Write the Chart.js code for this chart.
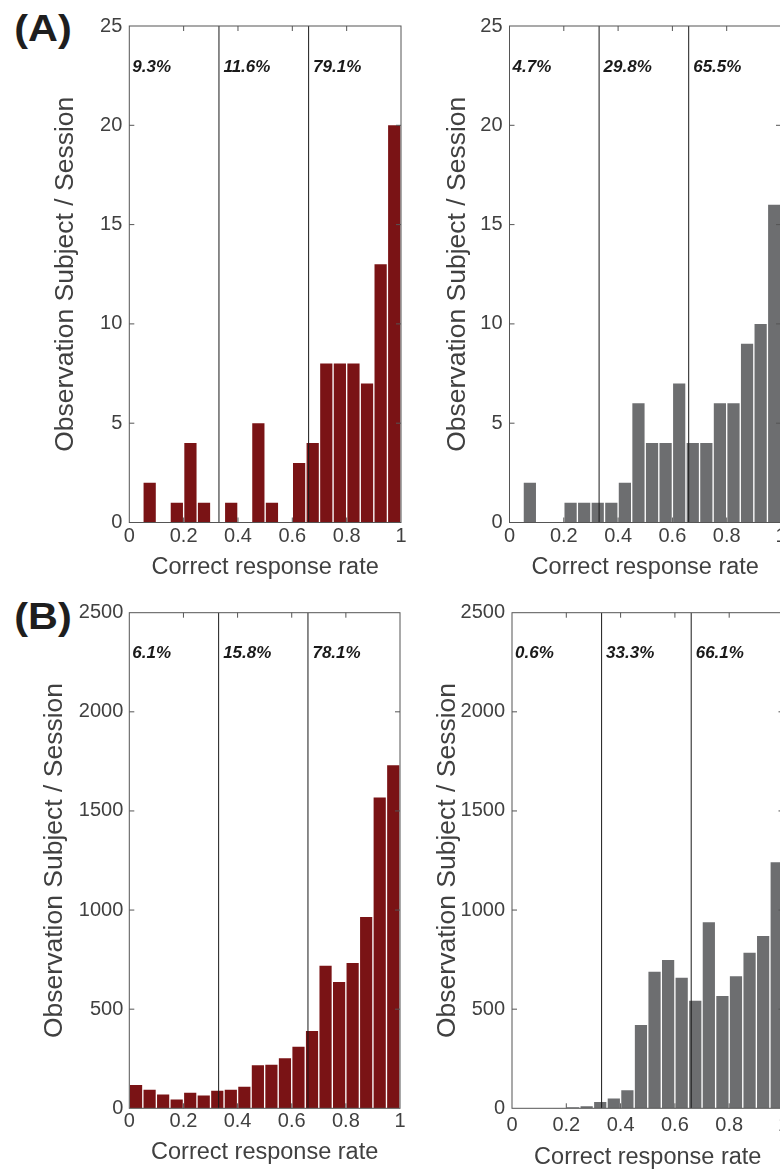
<!DOCTYPE html>
<html><head><meta charset="utf-8">
<script src="https://cdn.jsdelivr.net/npm/chart.js@4.4.1/dist/chart.umd.min.js"></script>
<style>
html,body{margin:0;padding:0;background:#fff;}
body{width:780px;height:1169px;position:relative;overflow:hidden;}
.panel{position:absolute;}
.panel canvas{display:block;}
.tag{position:absolute;font-family:'Liberation Sans',Arial,sans-serif;font-weight:bold;font-size:36px;line-height:36px;color:#1e1e1e;white-space:nowrap;transform:translateX(-50%) scaleX(1.15);}
</style></head><body>
<div class="tag" style="left:43.3px;top:11px;">(A)</div>
<div class="tag" style="left:43.3px;top:598.5px;">(B)</div>
<div class="panel" id="pA1"><canvas id="cA1"></canvas></div>
<div class="panel" id="pA2"><canvas id="cA2"></canvas></div>
<div class="panel" id="pB1"><canvas id="cB1"></canvas></div>
<div class="panel" id="pB2"><canvas id="cB2"></canvas></div>
<script>
// ---------- data ----------
const binCenters = [0.025,0.075,0.125,0.175,0.225,0.275,0.325,0.375,0.425,0.475,
                    0.525,0.575,0.625,0.675,0.725,0.775,0.825,0.875,0.925,0.975];
const xTickValues = [0,0.2,0.4,0.6,0.8,1];
const xTickLabels = ['0','0.2','0.4','0.6','0.8','1'];
const thresholds = [0.33,0.66];
const yTicksA = [0,5,10,15,20,25];
const yTicksB = [0,500,1000,1500,2000,2500];

const subjectsLeft  = [0,2,0,1,4,1,0,1,0,5,1,0,3,4,8,8,8,7,13,20];
const subjectsRight = [0,2,0,0,1,1,1,1,2,6,4,4,7,4,4,6,6,9,10,16];
const sessionsLeft  = [118,94,69,44,79,64,89,94,109,217,220,252,311,390,719,637,733,965,1568,1731];
const sessionsRight = [0,0,0,1,5,10,32,49,91,420,689,748,659,543,938,567,666,785,869,1241];

const pctSubjectsLeft  = ['9.3%','11.6%','79.1%'];
const pctSubjectsRight = ['4.7%','29.8%','65.5%'];
const pctSessionsLeft  = ['6.1%','15.8%','78.1%'];
const pctSessionsRight = ['0.6%','33.3%','66.1%'];

const yTitle = 'Observation Subject / Session';
const xTitle = 'Correct response rate';

const RED = '#7a1315';
const GRAY = '#6d6e70';
const FONT = "'Liberation Sans', Arial, Helvetica, sans-serif";
const TXT = '#404040';
const Y_TITLE_SIZE = 26.5, X_TITLE_SIZE = 23.5, TICK_SIZE = 20;

// ---------- frame / ticks / percentages plugin ----------
const framePlugin = {
  id: 'frame',
  afterDatasetsDraw(chart, args, opts) {
    const {ctx, chartArea, scales} = chart;
    const {left, top, right, bottom} = chartArea;
    const x = scales.x, y = scales.y;
    ctx.save();
    ctx.strokeStyle = '#555';
    ctx.lineWidth = 1;
    ctx.strokeRect(left, top, right - left, bottom - top);
    ctx.beginPath();
    x.ticks.forEach(tk => {
      if (tk.value <= x.min || tk.value >= x.max) return;
      const px = x.getPixelForValue(tk.value);
      ctx.moveTo(px, top); ctx.lineTo(px, top + 5);
      ctx.moveTo(px, bottom); ctx.lineTo(px, bottom - 5);
    });
    y.ticks.forEach(tk => {
      if (tk.value <= y.min || tk.value >= y.max) return;
      const py = y.getPixelForValue(tk.value);
      ctx.moveTo(left, py); ctx.lineTo(left + 5, py);
      ctx.moveTo(right, py); ctx.lineTo(right - 5, py);
    });
    ctx.stroke();
    ctx.font = 'italic bold 17px ' + FONT;
    ctx.fillStyle = '#1a1a1a';
    ctx.textBaseline = 'middle';
    ctx.textAlign = 'left';
    const anchors = [x.min].concat(thresholds);
    (opts.labels || []).forEach((t, i) => {
      ctx.fillText(t, x.getPixelForValue(anchors[i]) + (i === 0 ? 3 : 4.5), top + 41);
    });
    ctx.restore();
  }
};

function makePanel(pid, cid, g, values, color, yTicks, pcts) {
  const yTitleLH = Y_TITLE_SIZE * 1.2, xTitleLH = X_TITLE_SIZE * 1.2, tickLH = TICK_SIZE * 1.2;
  const padL = (g.yTitleX - 1.3) - g.L - yTitleLH / 2;
  const yW = (g.l - g.L) - padL;
  const xTickPad = g.xTickY + 1 - g.b - tickLH / 2;
  const xBottom = g.xTitleY + 1.1 + xTitleLH / 2;
  const xH = xBottom - g.b;
  const padB = (g.T + g.H) - xBottom;
  const padT = g.t - g.T;
  const padR = (g.L + g.W) - g.r;

  const div = document.getElementById(pid);
  div.style.left = g.L + 'px'; div.style.top = g.T + 'px';
  div.style.width = g.W + 'px'; div.style.height = g.H + 'px';
  const cv = document.getElementById(cid);
  cv.width = g.W; cv.height = g.H;
  cv.style.width = g.W + 'px'; cv.style.height = g.H + 'px';

  const yMax = yTicks[yTicks.length - 1];
  const datasets = [{
    type: 'bar',
    data: binCenters.map((c, i) => ({x: c, y: values[i]})),
    backgroundColor: color,
    borderWidth: 0,
    barPercentage: 0.9,
    categoryPercentage: 1,
    order: 1
  }];
  thresholds.forEach(v => datasets.push({
    type: 'line',
    data: [{x: v, y: 0}, {x: v, y: yMax}],
    borderColor: '#1a1a1a',
    borderWidth: 1,
    pointRadius: 0,
    order: 0
  }));

  new Chart(cv, {
    type: 'bar',
    data: {datasets},
    plugins: [framePlugin],
    options: {
      responsive: false,
      animation: false,
      events: [],
      layout: {padding: {left: padL, top: padT, right: padR, bottom: padB}},
      plugins: {legend: {display: false}, tooltip: {enabled: false}, frame: {labels: pcts}},
      scales: {
        x: {
          type: 'linear', min: 0, max: 1, offset: false,
          grid: {display: false, drawTicks: false},
          border: {display: false},
          afterBuildTicks: s => { s.ticks = xTickValues.map(v => ({value: v})); },
          afterFit: s => { s.height = xH; },
          ticks: {
            padding: xTickPad, color: TXT, maxRotation: 0, autoSkip: false,
            font: {family: FONT, size: TICK_SIZE},
            callback: (v, i) => xTickLabels[i]
          },
          title: {display: true, text: xTitle, color: TXT, padding: 0, font: {family: FONT, size: X_TITLE_SIZE}}
        },
        y: {
          type: 'linear', min: 0, max: yMax,
          grid: {display: false, drawTicks: false},
          border: {display: false},
          afterBuildTicks: s => { s.ticks = yTicks.map(v => ({value: v})); },
          afterFit: s => { s.width = yW; },
          ticks: {
            padding: g.yTickPad, color: TXT, autoSkip: false,
            font: {family: FONT, size: TICK_SIZE},
            callback: (v) => String(v)
          },
          title: {display: true, text: yTitle, color: TXT, padding: 0, font: {family: FONT, size: Y_TITLE_SIZE}}
        }
      }
    }
  });
}

makePanel('pA1', 'cA1',
  {L: 0, T: 0, W: 420, H: 590, l: 129.3, t: 26, r: 401, b: 522.5, yTitleX: 66.7, xTickY: 535.8, xTitleY: 566.7, yTickPad: 7},
  subjectsLeft, RED, yTicksA, pctSubjectsLeft);
makePanel('pA2', 'cA2',
  {L: 420, T: 0, W: 380, H: 590, l: 509.5, t: 26, r: 781, b: 522.5, yTitleX: 459, xTickY: 535.8, xTitleY: 566.7, yTickPad: 7},
  subjectsRight, GRAY, yTicksA, pctSubjectsRight);
makePanel('pB1', 'cB1',
  {L: 0, T: 590, W: 420, H: 579, l: 129.3, t: 612.7, r: 400, b: 1108.3, yTitleX: 55.5, xTickY: 1120, xTitleY: 1151, yTickPad: 6},
  sessionsLeft, RED, yTicksB, pctSessionsLeft);
makePanel('pB2', 'cB2',
  {L: 420, T: 590, W: 380, H: 579, l: 512, t: 612.7, r: 783.5, b: 1108.3, yTitleX: 449, xTickY: 1124, xTitleY: 1156, yTickPad: 7},
  sessionsRight, GRAY, yTicksB, pctSessionsRight);
</script>
</body></html>
